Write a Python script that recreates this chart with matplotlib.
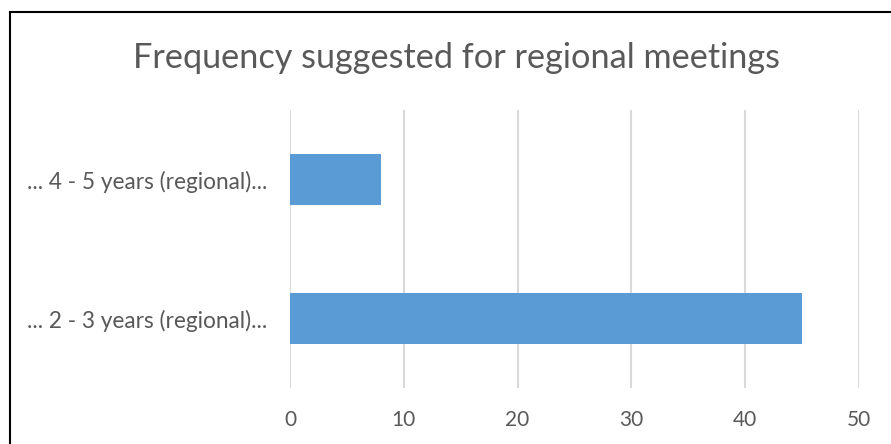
import matplotlib.pyplot as plt
from matplotlib.lines import Line2D

categories = ['... 2 - 3 years (regional)...', '... 4 - 5 years (regional)...']
counts = [45, 8]
xticks = [0, 10, 20, 30, 40, 50]

grey = '#595959'
plt.rcParams['font.family'] = ['Lato', 'DejaVu Sans']

fig = plt.figure(figsize=(8.91, 4.44), dpi=100)
ax = fig.add_axes([290/891, 56/444, 569/891, 278/444])

ax.barh(range(len(categories)), counts, height=0.36, color='#5b9bd5', zorder=3)
ax.set_ylim(-0.5, len(categories) - 0.5)
ax.set_xlim(xticks[0], xticks[-1])
ax.set_xticks(xticks)
ax.set_yticks(range(len(categories)))
ax.set_yticklabels(categories)
ax.tick_params(axis='both', length=0, colors=grey)
ax.tick_params(axis='x', pad=16, labelsize=15)
ax.tick_params(axis='y', pad=16.5, labelsize=16.3)
ax.grid(axis='x', color='#d9d9d9', linewidth=1.5, zorder=0)
for s in ax.spines.values():
    s.set_visible(False)

fig.text(0.512, 386/444, 'Frequency suggested for regional meetings',
         ha='center', va='center', fontsize=24.7, color=grey)

# chart frame: top and left edges
x0, y0 = 9.5/891, 1 - 12.5/444
fig.add_artist(Line2D([x0, 1.0], [y0, y0], transform=fig.transFigure,
                      color='black', linewidth=1.5, solid_capstyle='projecting'))
fig.add_artist(Line2D([x0, x0], [0.0, y0], transform=fig.transFigure,
                      color='black', linewidth=1.5, solid_capstyle='projecting'))

fig.savefig('out.png', dpi=100)
